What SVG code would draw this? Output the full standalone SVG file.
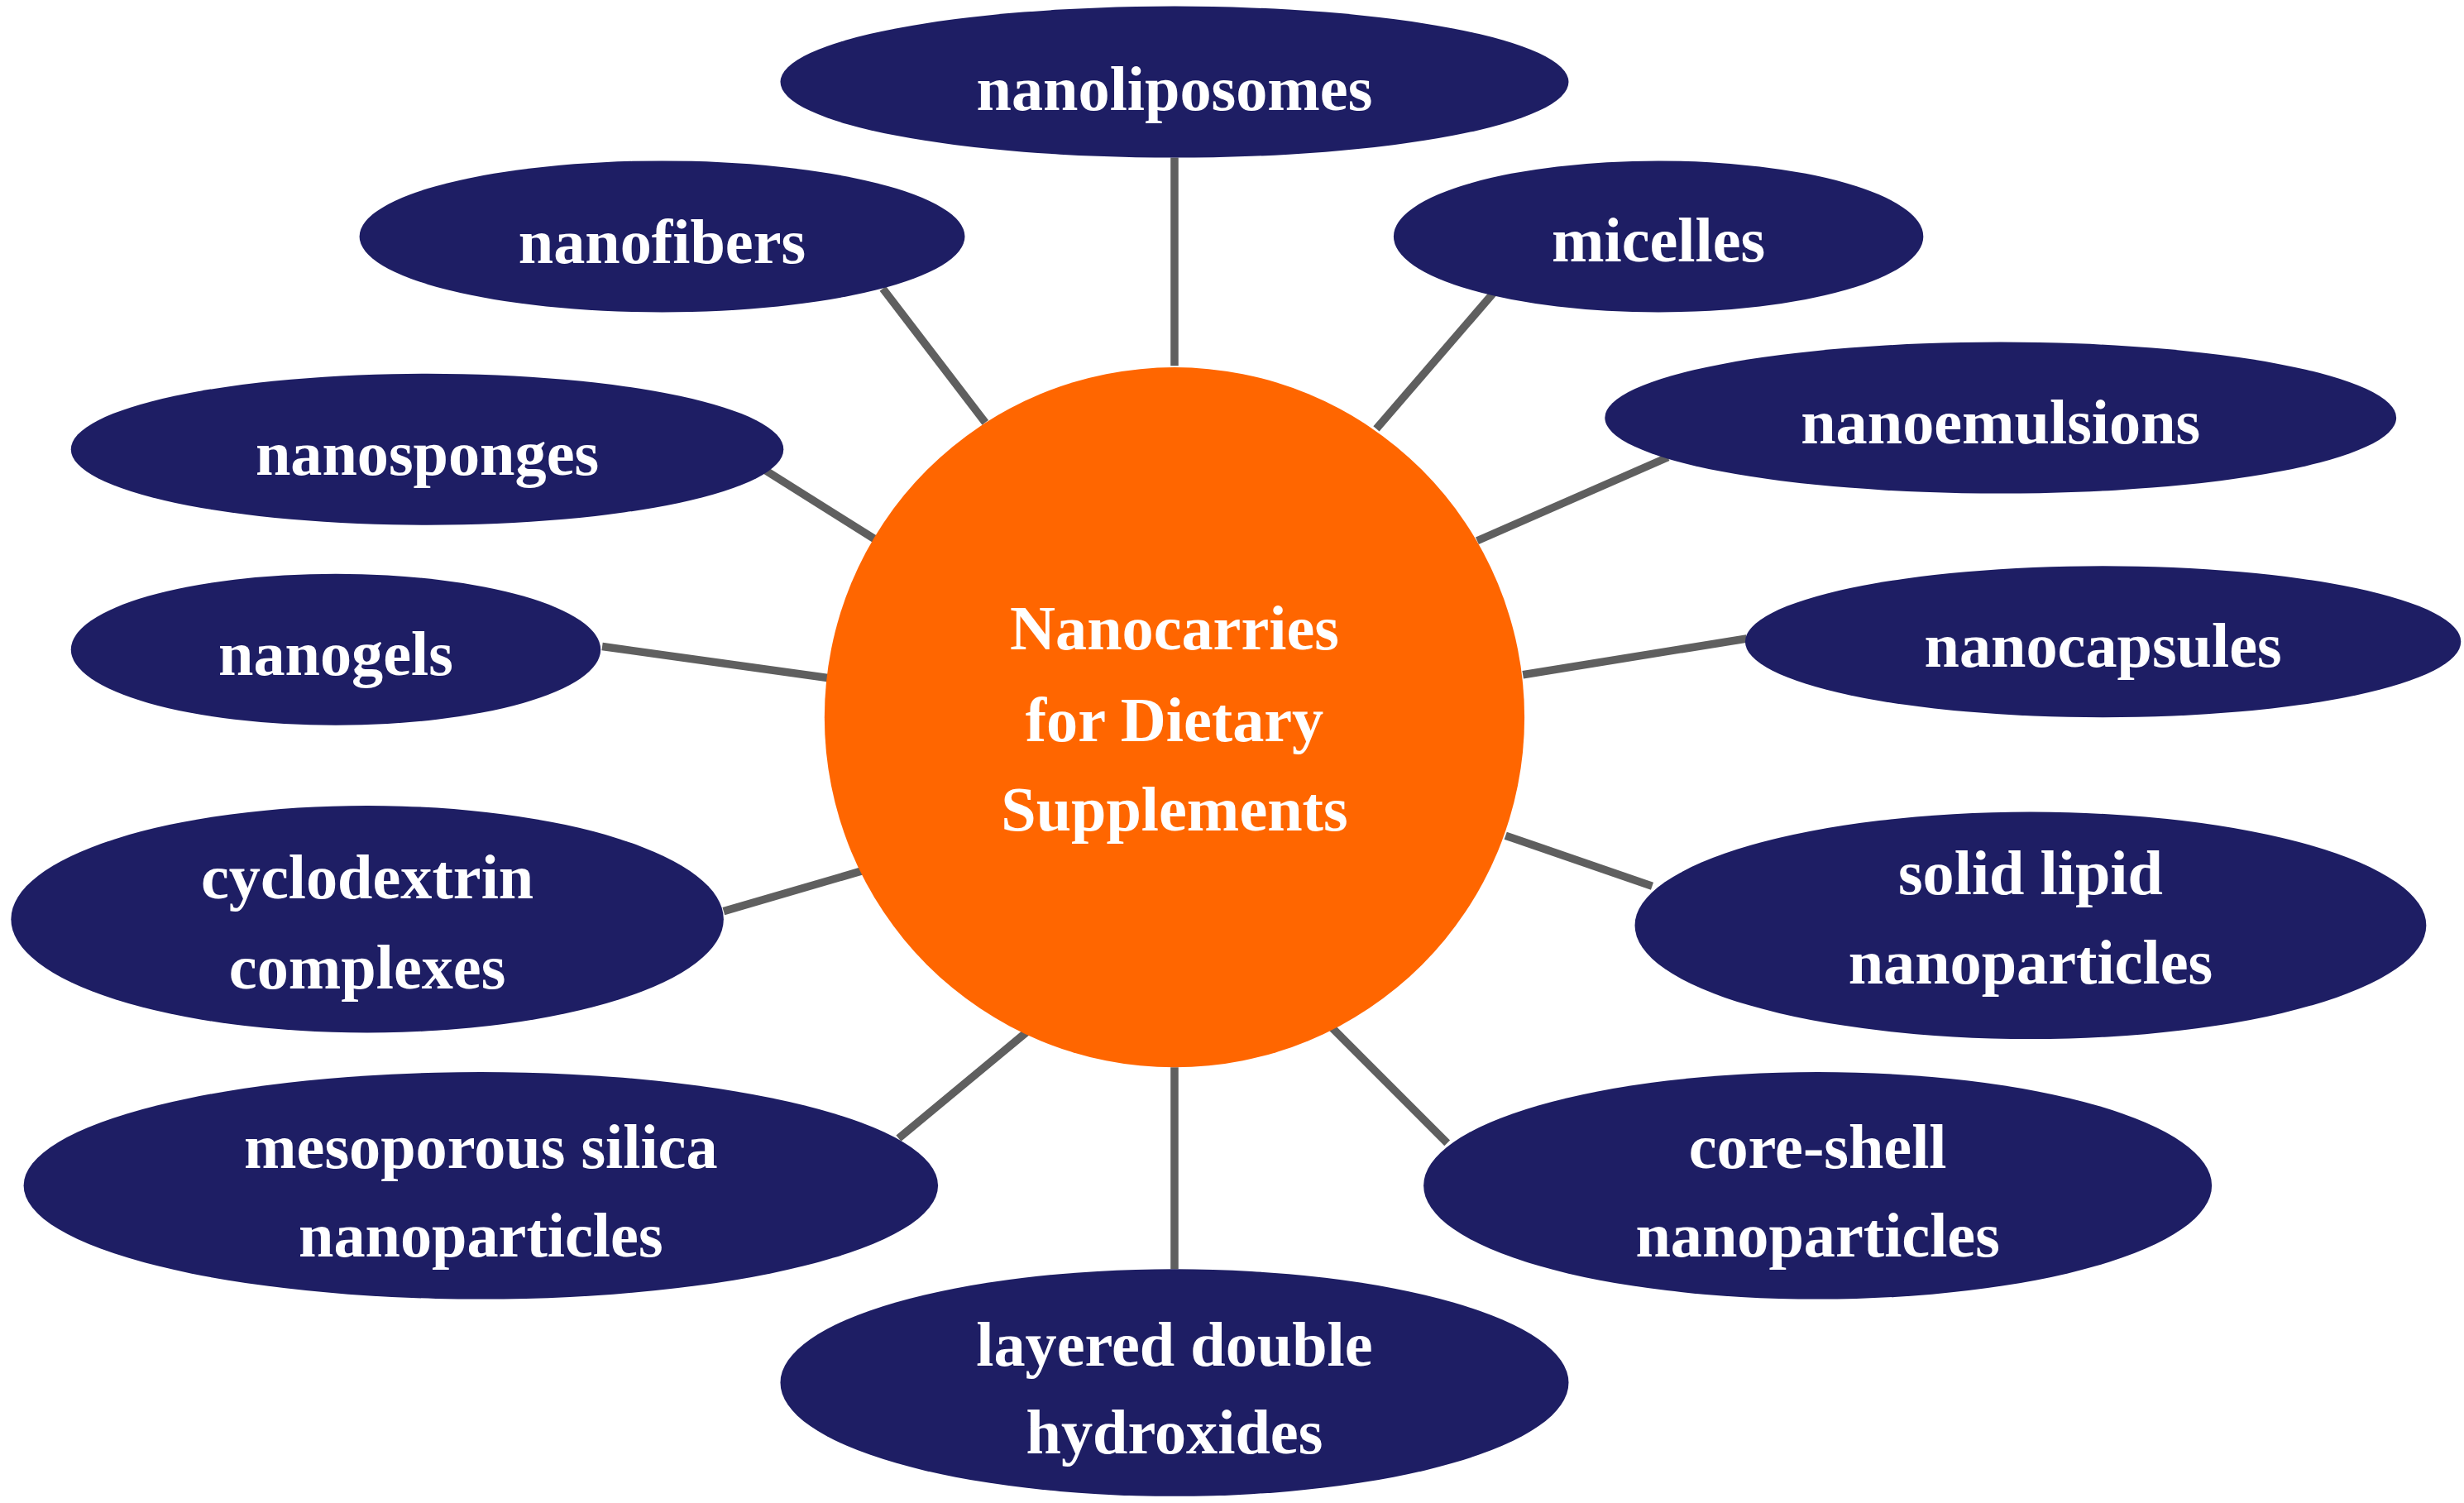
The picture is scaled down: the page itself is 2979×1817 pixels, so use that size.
<svg xmlns="http://www.w3.org/2000/svg" width="2979" height="1817" viewBox="0 0 2979 1817">
<style>
.n{fill:#1e1e64}
.t{font-family:"Liberation Serif",serif;font-weight:bold;font-size:40px;fill:#fff;text-anchor:middle}
.c line{stroke:#5f5f5f;stroke-width:5}
</style>
<rect width="2979" height="1817" fill="#fff"/>
<g transform="scale(1.906)">
<g class="c" id="connectors">
<line x1="745" y1="100" x2="745" y2="232"/>
<line x1="560" y1="183" x2="625" y2="268"/>
<line x1="948" y1="185" x2="873" y2="272"/>
<line x1="485" y1="298" x2="555" y2="342"/>
<line x1="1058" y1="290" x2="937" y2="343"/>
<line x1="382" y1="410" x2="525" y2="430"/>
<line x1="1108" y1="405" x2="966" y2="428"/>
<line x1="459" y1="578" x2="548" y2="552"/>
<line x1="955" y1="530" x2="1048" y2="562"/>
<line x1="570" y1="722" x2="652" y2="654"/>
<line x1="845" y1="652" x2="918" y2="725"/>
<line x1="745" y1="677" x2="745" y2="805"/>
</g>
<g id="center"><circle cx="745" cy="455" r="222" fill="#ff6600"/>
<text class="t" x="745" y="412">Nanocarries</text><text class="t" x="745" y="470">for Dietary</text><text class="t" x="745" y="527">Supplements</text></g>
<g id="nanoliposomes"><ellipse class="n" cx="745" cy="52" rx="250" ry="48"/><text class="t" x="745" y="70">nanoliposomes</text></g>
<g id="nanofibers"><ellipse class="n" cx="420" cy="150" rx="192" ry="48"/><text class="t" x="420" y="167">nanofibers</text></g>
<g id="micelles"><ellipse class="n" cx="1052" cy="150" rx="168" ry="48"/><text class="t" x="1052" y="166">micelles</text></g>
<g id="nanosponges"><ellipse class="n" cx="271" cy="285" rx="226" ry="48"/><text class="t" x="271" y="301">nanosponges</text></g>
<g id="nanoemulsions"><ellipse class="n" cx="1269" cy="265" rx="251" ry="48"/><text class="t" x="1269" y="281">nanoemulsions</text></g>
<g id="nanogels"><ellipse class="n" cx="213" cy="412" rx="168" ry="48"/><text class="t" x="213" y="428">nanogels</text></g>
<g id="nanocapsules"><ellipse class="n" cx="1334" cy="407" rx="227" ry="48"/><text class="t" x="1334" y="423">nanocapsules</text></g>
<g id="cyclodextrin"><ellipse class="n" cx="233" cy="583" rx="226" ry="72"/><text class="t" x="233" y="570">cyclodextrin</text><text class="t" x="233" y="627">complexes</text></g>
<g id="sln"><ellipse class="n" cx="1288" cy="587" rx="251" ry="72"/><text class="t" x="1288" y="567">solid lipid</text><text class="t" x="1288" y="624">nanoparticles</text></g>
<g id="mesoporous"><ellipse class="n" cx="305" cy="752" rx="290" ry="72"/><text class="t" x="305" y="741">mesoporous silica</text><text class="t" x="305" y="797">nanoparticles</text></g>
<g id="coreshell"><ellipse class="n" cx="1153" cy="752" rx="250" ry="72"/><text class="t" x="1153" y="741">core-shell</text><text class="t" x="1153" y="797">nanoparticles</text></g>
<g id="ldh"><ellipse class="n" cx="745" cy="877" rx="250" ry="72"/><text class="t" x="745" y="866">layered double</text><text class="t" x="745" y="922">hydroxides</text></g>
</g>
</svg>
